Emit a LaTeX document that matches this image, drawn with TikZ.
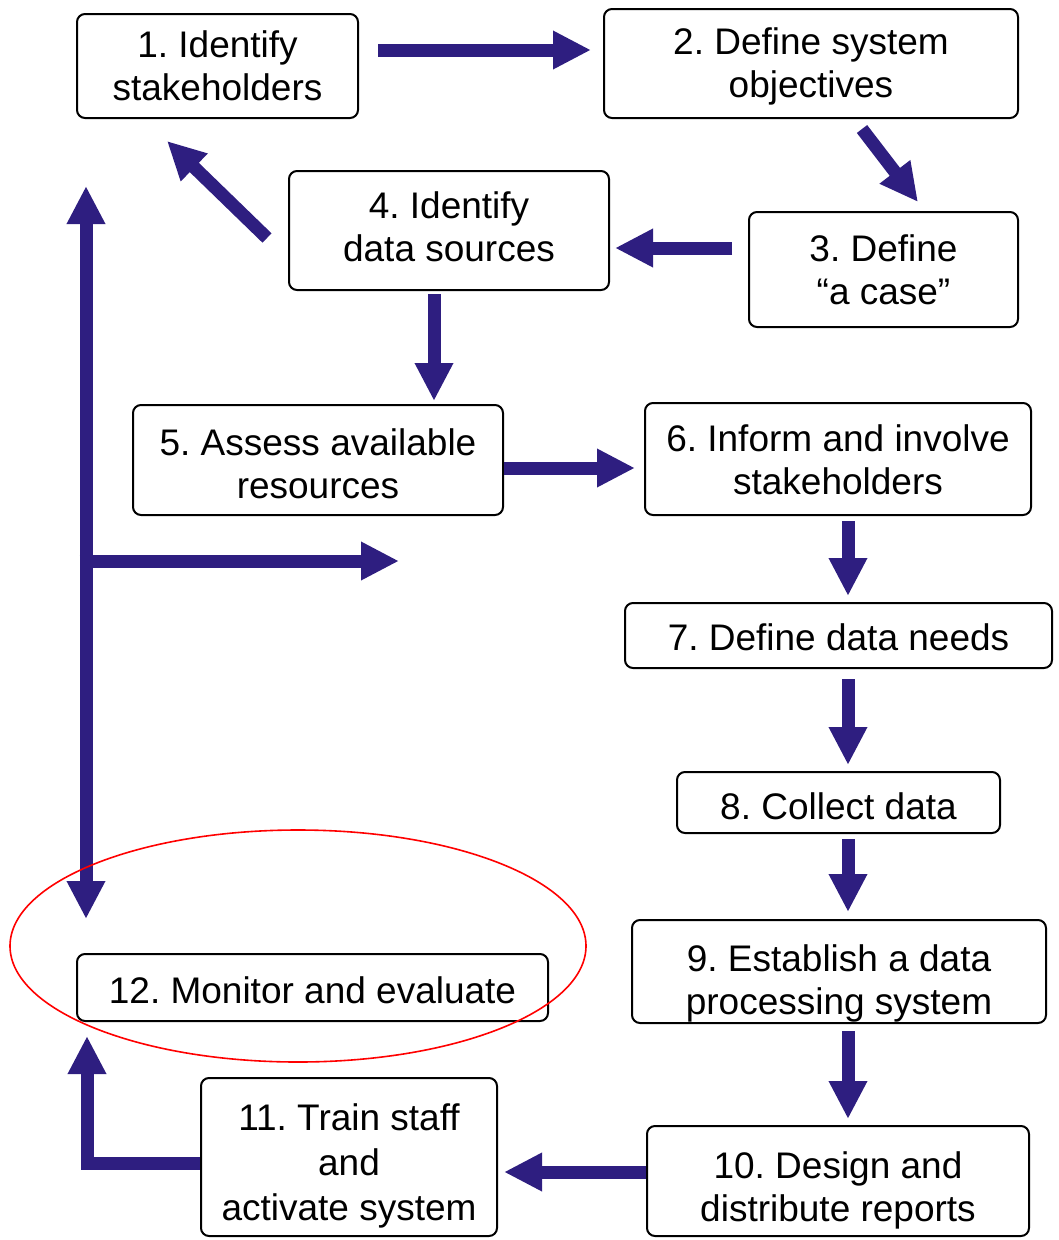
\documentclass[tikz,border=0pt]{standalone}
\usepackage{fontspec}
\setmainfont{Liberation Sans}
\usetikzlibrary{arrows.meta,calc}
\definecolor{flowblue}{RGB}{46,30,128}
% a tall invisible strut on a first line pushes the text block down in its box
\newcommand\strutto[1]{\rule{0pt}{#1}}
\tikzset{
  stepbox/.style={draw=black, line width=2pt, rounded corners=8pt, fill=white,
    inner sep=0pt, align=center, font=\fontsize{37}{43}\selectfont\frenchspacing},
  % deeper last-line strut lifts the text block inside its box
  lift/.style={execute at end node={\rule[-#1]{0pt}{0pt}}},
  flow/.style={draw=flowblue, line width=13pt,
    -{Triangle[width=36pt,length=38pt]}},
  flowboth/.style={draw=flowblue, line width=13pt,
    {Triangle[width=36pt,length=38pt]}-{Triangle[width=36pt,length=38pt]}},
  ring/.style={draw=red, line width=1.6pt}
}
\begin{document}
\begin{tikzpicture}[x=1pt,y=-1pt]
\useasboundingbox (0,0) rectangle (1058,1240);

% process steps
\node[stepbox, minimum width=281, minimum height=104] (n1) at (217.5,66) {1. Identify\\stakeholders};
\node[stepbox, minimum width=414, minimum height=109] (n2) at (811,63.5) {\strutto{33pt}2. Define system\\objectives};
\node[stepbox, minimum width=269, minimum height=115] (n3) at (883.5,269.5) {3. Define\\“a case”};
\node[stepbox, lift=8pt, minimum width=320, minimum height=119] (n4) at (449,230.5) {4. Identify\\data sources};
\node[stepbox, minimum width=370, minimum height=110] (n5) at (318,460) {\strutto{34pt}5. Assess available\\resources};
\node[stepbox, minimum width=386, minimum height=112] (n6) at (838,459) {\strutto{29pt}6. Inform and involve\\stakeholders};
\node[stepbox, minimum width=427, minimum height=65] (n7) at (838.5,635.5) {\strutto{30pt}7. Define data needs};
\node[stepbox, minimum width=323, minimum height=61] (n8) at (838.5,802.5) {\strutto{35pt}8. Collect data};
\node[stepbox, minimum width=414, minimum height=103] (n9) at (839,971.5) {\strutto{51pt}9. Establish a data\\processing system};
\node[stepbox, minimum width=382, minimum height=110] (n10) at (838,1181) {\strutto{45pt}10. Design and\\distribute reports};
\node[stepbox, font=\fontsize{37}{45}\selectfont\frenchspacing, minimum width=296, minimum height=158] (n11) at (349,1157) {\strutto{45pt}11. Train staff\\and\\activate system};
\node[stepbox, minimum width=471, minimum height=67] (n12) at (312.5,987.5) {\strutto{33pt}12. Monitor and evaluate};

% connectors between steps
\draw[flow] ($(n1.east)+(19,-16)$) -- ($(n2.west)+(-12,-13.5)$);
\draw[flow] ($(n2.south)+(51,10)$) -- ($(n3.north)+(34.5,-9)$);
\draw[flow] ($(n3.west)+(-16,-21.5)$) -- ($(n4.east)+(5,17.5)$);
\draw[flow] ($(n4.west)+(-21,7.5)$) -- ($(n1.south)+(-50.5,22)$);
\draw[flow] ($(n4.south)+(-15,3)$) -- ($(n5.north)+(116,-3)$);
\draw[flow] ($(n5.east)+(0,8)$) -- ($(n6.west)+(-9,9)$);
\draw[flow] ($(n6.south)+(10,5)$) -- ($(n7.north)+(9.5,-6)$);
\draw[flow] ($(n7.south)+(9.5,10)$) -- ($(n8.north)+(9.5,-6)$);
\draw[flow] ($(n8.south)+(9.5,5)$) -- ($(n9.north)+(9,-7)$);
\draw[flow] ($(n9.south)+(9,7)$) -- ($(n10.north)+(10,-6)$);
\draw[flow] ($(n10.west)+(0,-9)$) -- ($(n11.east)+(6,15)$);
\draw[flow] ($(n11.west)+(0,6)$) -| ($(n12.south)+(-225.5,14)$);

% feedback line on the left with its branch
\draw[flowboth] ($(n1.south west)+(10,67)$) -- ($(n12.north west)+(10,-34)$);
\coordinate (fork) at ($(n1.south west)+(10,442)$);
\draw[flow] ($(fork)+(-6.5,0)$) -- ++(319.5,0);

% highlight ring
\draw[ring] (298,946) ellipse [x radius=288, y radius=116];
\end{tikzpicture}
\end{document}
